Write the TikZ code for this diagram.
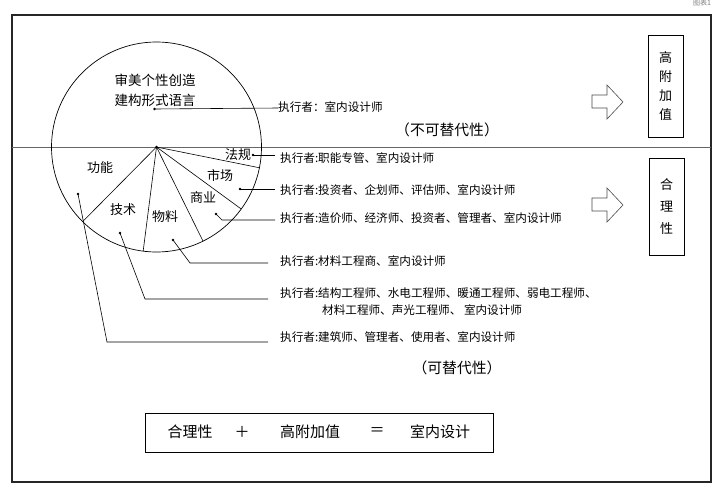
\documentclass[tikz,border=0pt]{standalone}
\usepackage{fontspec}
\newfontfamily\cjk{Noto Sans CJK SC}
\usetikzlibrary{calc}
\begin{document}
\begin{tikzpicture}[x=1pt,y=-1pt,
  txt/.style={font=\cjk\fontsize{11.6}{13}\selectfont, inner sep=0pt, anchor=west},
  seg/.style={font=\cjk\fontsize{13}{15}\selectfont, inner sep=0pt},
  big/.style={font=\cjk\fontsize{13.5}{16}\selectfont, inner sep=0pt},
  par/.style={font=\cjk\fontsize{14.8}{17}\selectfont, inner sep=0pt},
  vbox/.style={draw, line width=0.8pt, minimum width=35pt, align=center, font=\cjk\fontsize{13}{19}\selectfont},
  lead/.style={line width=0.6pt},
  dotm/.style={circle, fill, inner sep=0pt, minimum size=2.8pt},
  blockarrow/.style={draw=black!70, line width=0.6pt, fill=white}
]
\useasboundingbox (0,0) rectangle (721,496);
\fill[white] (0,0) rectangle (721,496);
% outer frame
\draw[line width=1.3pt, black!85] (12,15) rectangle (711,482);
\node[font=\cjk\fontsize{7}{8}\selectfont, text=black!50, inner sep=0pt] (tag) at (702,3) {图表1};
% divider
\draw[black!60, line width=0.7pt] (12,147) -- (711,147);
% pie
\coordinate (c) at (156.5,147);
\draw[line width=0.7pt] (c) circle[radius=105];
\draw[line width=0.6pt] (c) -- ($(c)+(11.4:105)$);
\draw[line width=0.6pt] (c) -- ($(c)+(36.2:105)$);
\draw[line width=0.6pt] (c) -- ($(c)+(63.7:105)$);
\draw[line width=0.6pt] (c) -- ($(c)+(97.3:105)$);
\draw[line width=0.6pt] (c) -- ($(c)+(134.7:105)$);
\fill (c) circle[radius=1.5];
% labels in pie
\node[big] (aes) at (155,80) {审美个性创造};
\node[big] (form) at (155,100) {建构形式语言};
\node[seg] (fagui) at (238,155) {法规};
\node[seg] (shichang) at (220,175) {市场};
\node[seg] (shangye) at (203,198) {商业};
\node[seg] (wuliao) at (165,217) {物料};
\node[seg] (jishu) at (123,210) {技术};
\node[seg] (gongneng) at (100,168) {功能};
% dots
\node[dotm] (d1) at (154.5,109) {};
\node[dotm] (d2) at (253,155) {};
\node[dotm] (d3) at (240,189) {};
\node[dotm] (d4) at (216,214) {};
\node[dotm] (d5) at (173,240) {};
\node[dotm] (d6) at (120,233) {};
\node[dotm] (d7) at (78,194) {};
% line ends
\coordinate (e1) at (278,108);
\coordinate (e2) at (275,155);
\coordinate (e3) at (275,189);
\coordinate (k4) at (222,220);
\coordinate (e4) at (275,220);
\coordinate (k5) at (190,263);
\coordinate (e5) at (268,263);
\coordinate (k6) at (145,299);
\coordinate (e6) at (268,299);
\coordinate (k7) at (107,342);
\coordinate (e7) at (268,342);
\draw[lead] (d1.center) -- (e1);
\draw[lead] (d2.center) -- (e2);
\draw[lead] (d3.center) -- (e3);
\draw[lead] (d4.center) -- (k4) -- (e4);
\draw[lead] (d5.center) -- (k5) -- (e5);
\draw[lead] (d6.center) -- (k6) -- (e6);
\draw[lead] (d7.center) -- (k7) -- (e7);
% role texts
\node[txt] (r1) at (278,107) {执行者：室内设计师};
\node[txt] (r2) at (280,158) {执行者:职能专管、室内设计师};
\node[txt] (r3) at (280,190) {执行者:投资者、企划师、评估师、室内设计师};
\node[txt] (r4) at (280,218) {执行者:造价师、经济师、投资者、管理者、室内设计师};
\node[txt] (r5) at (280,261) {执行者:材料工程商、室内设计师};
\node[txt] (r6a) at (280,293) {执行者:结构工程师、水电工程师、暖通工程师、弱电工程师、};
\node[txt] (r6b) at (322,310) {材料工程师、声光工程师、 室内设计师};
\node[txt] (r7) at (280,337) {执行者:建筑师、管理者、使用者、室内设计师};
% parentheses labels
\node[par] (irr) at (447,130) {（不可替代性）};
\node[par] (rep) at (457,368) {（可替代性）};
% block arrows
\draw[blockarrow] (592,95) -- (607,95) -- (607,85) -- (623,102) -- (607,119) -- (607,108) -- (592,108) -- cycle;
\draw[blockarrow] (592,198) -- (607,198) -- (607,188) -- (623,205) -- (607,222) -- (607,211) -- (592,211) -- cycle;
% right boxes
\node[vbox, minimum height=102pt] (hv) at (665.5,86) {高\\附\\加\\值};
\node[vbox, minimum height=97pt, font=\cjk\fontsize{13}{22}\selectfont] (rat) at (666.5,206.5) {合\\理\\性};
% bottom equation
\draw[line width=0.8pt] (145,413) rectangle (493,452);
\node[font=\cjk\fontsize{15}{17}\selectfont, inner sep=0pt] (q1) at (190,432) {合理性};
\node[font=\cjk\fontsize{15}{17}\selectfont, inner sep=0pt] (q2) at (242,432) {＋};
\node[font=\cjk\fontsize{15}{17}\selectfont, inner sep=0pt] (q3) at (310,432) {高附加值};
\node[font=\cjk\fontsize{15}{17}\selectfont, inner sep=0pt] (q4) at (377,432) {＝};
\node[font=\cjk\fontsize{15}{17}\selectfont, inner sep=0pt] (q5) at (440,432) {室内设计};
\end{tikzpicture}
\end{document}
